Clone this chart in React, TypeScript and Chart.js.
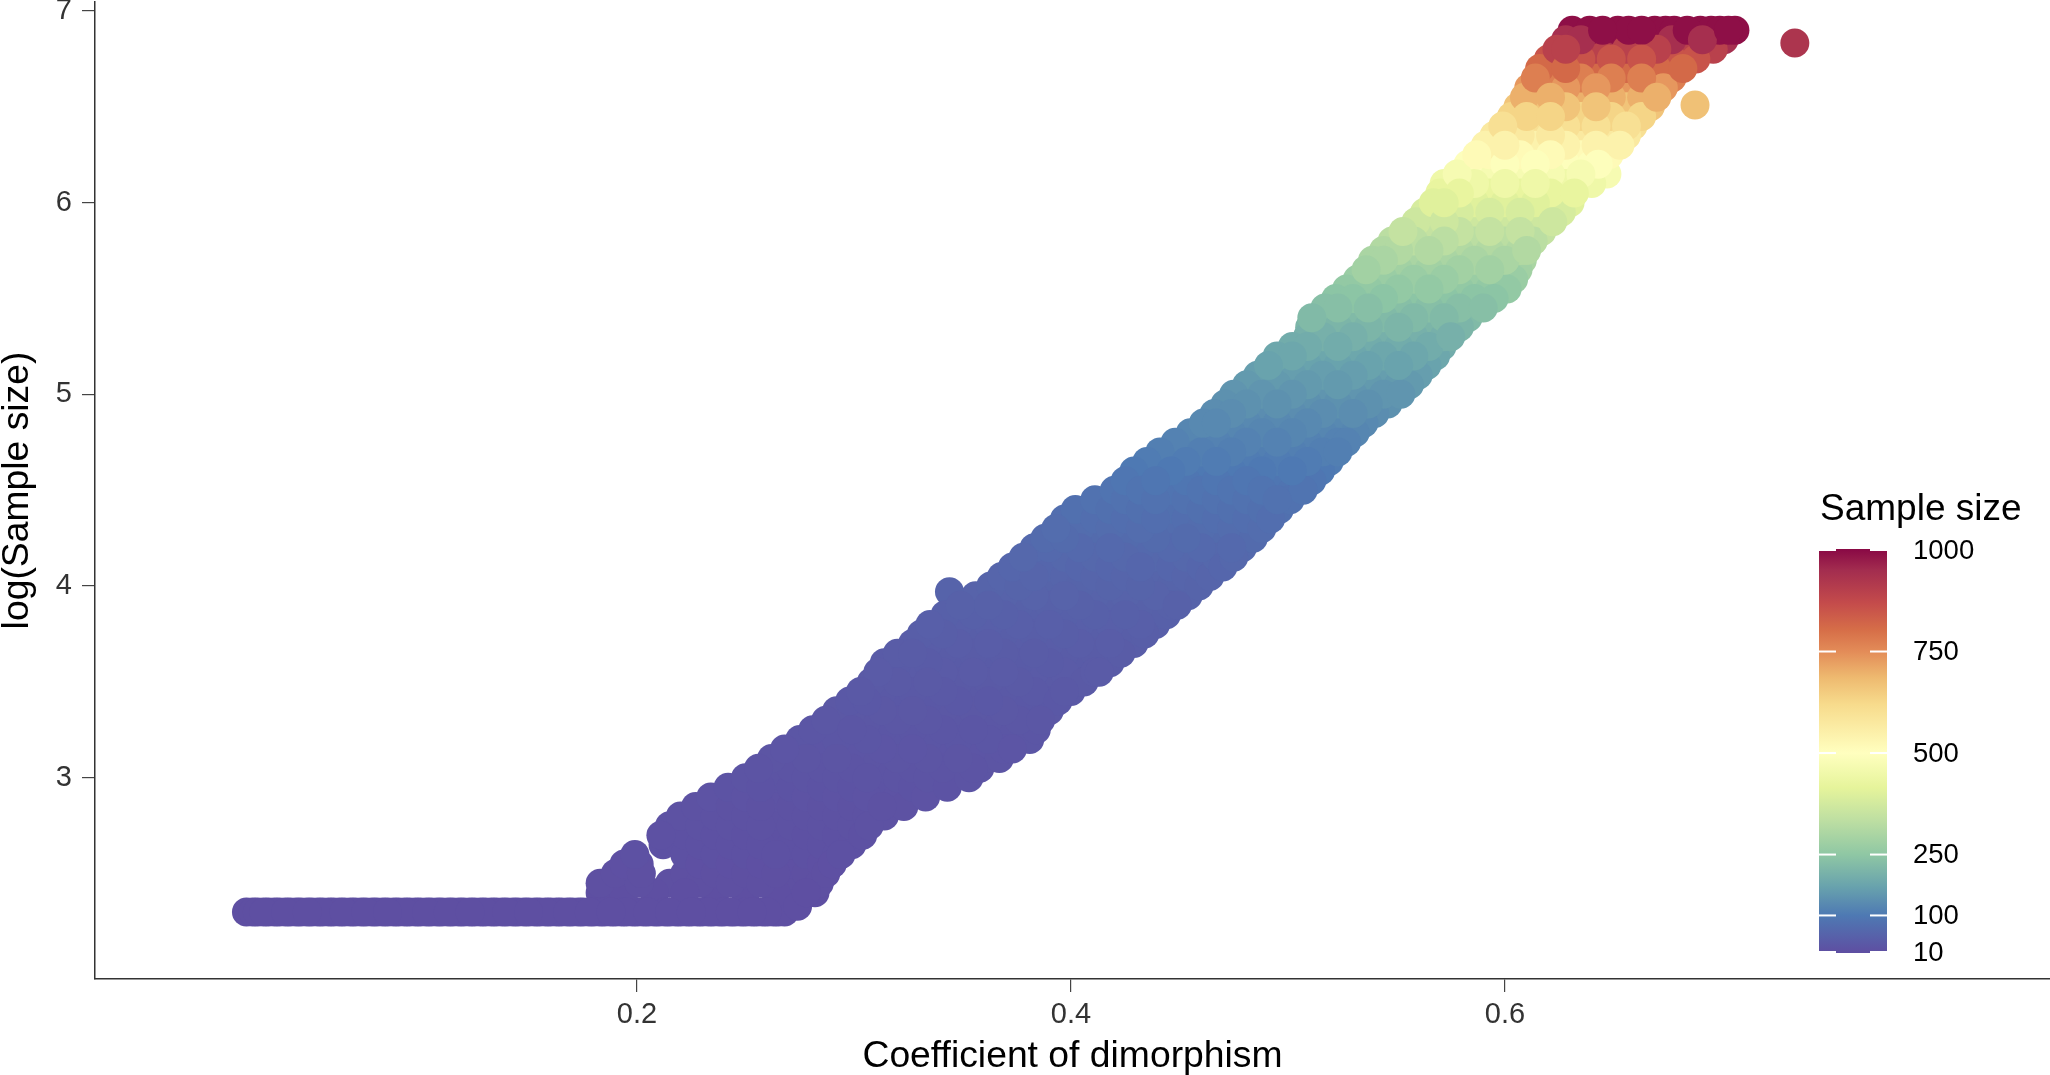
import React, { useEffect, useRef } from "react";
import { Chart, registerables } from "chart.js";

Chart.register(...registerables);

// log(Sample size) = 2.3 floor (n = 10): coefficient values read along the flat run
const floorY = 2.3;
const floorX = [.020,.023,.025,.028,.030,.033,.035,.038,.040,.043,.045,.048,.050,.053,.055,.058,.060,.063,.065,.068,.070,.073,.075,.078,.080,.083,.085,.088,.090,.093,.095,.098,.100,.103,.105,.108,.110,.113,.115,.118,.120,.123,.125,.128,.130,.133,.135,.138,.140,.143,.145,.148,.150,.153,.155,.158,.160,.163,.165,.168,.170,.173,.175,.178,.180,.183,.185,.188,.190,.193,.195,.198,.200,.203,.205,.208,.210,.213,.215,.218,.220,.223,.225,.228,.230,.233,.235,.238,.240,.243,.245,.248,.250,.253,.255,.258,.260,.263,.265,.268];

const lowY = [2.33,2.4,2.45,2.5,2.55,2.6,2.65,2.7,2.75,2.8,2.85,2.9,2.95,3.0,3.05,3.1,3.15,3.2,3.25,3.3,3.35,3.4,3.45,3.5,3.55,3.6,3.65,3.7,3.75,3.8,3.85,3.9,3.95,3.97];
const lowX = [
  [.274],
  [.183,.194,.208,.222,.236,.250,.264,.278,.282],
  [.183,.201,.215,.229,.243,.257,.271,.284],
  [.190,.202,.222,.236,.250,.264,.278,.287],
  [.194,.201,.229,.243,.257,.271,.285,.290],
  [.199,.222,.236,.250,.264,.278,.292,.294],
  [.212,.229,.243,.257,.271,.285,.299],
  [.211,.222,.236,.250,.264,.278,.292,.304],
  [.215,.229,.243,.257,.271,.285,.299,.307],
  [.220,.236,.250,.264,.278,.292,.306,.314],
  [.227,.243,.257,.271,.285,.299,.313,.323],
  [.234,.250,.264,.278,.292,.306,.320,.333],
  [.242,.257,.271,.285,.299,.313,.327,.343],
  [.250,.264,.278,.292,.306,.320,.334,.353],
  [.256,.271,.285,.299,.313,.327,.341,.355,.358],
  [.262,.278,.292,.306,.320,.334,.348,.362,.367],
  [.268,.285,.299,.313,.327,.341,.355,.369,.373],
  [.275,.292,.306,.320,.334,.348,.362,.376,.381],
  [.281,.299,.313,.327,.341,.355,.369,.384],
  [.287,.292,.306,.320,.334,.348,.362,.376,.386],
  [.292,.299,.313,.327,.341,.355,.369,.383,.390],
  [.298,.306,.320,.334,.348,.362,.376,.390,.394],
  [.303,.313,.327,.341,.355,.369,.383,.397,.400],
  [.308,.320,.334,.348,.362,.376,.390,.404,.406],
  [.311,.327,.341,.355,.369,.383,.397,.411,.413],
  [.314,.320,.334,.348,.362,.376,.390,.404,.418],
  [.320,.327,.341,.355,.369,.383,.397,.411,.423],
  [.327,.334,.348,.362,.376,.390,.404,.418,.429],
  [.331,.341,.355,.369,.383,.397,.411,.425,.434],
  [.335,.348,.362,.376,.390,.404,.418,.432,.439],
  [.342,.355,.369,.383,.397,.411,.425,.439,.444],
  [.349,.362,.376,.390,.404,.418,.432,.446,.449],
  [.356,.369,.383,.397,.411,.425,.439,.454],
  [.344],
];

const midY = [4.0,4.05,4.1,4.15,4.2,4.25,4.3,4.35,4.4,4.45,4.5,4.55,4.6,4.65,4.7,4.75,4.8,4.85,4.9,4.95,5.0];
const midX = [
  [.363,.376,.390,.404,.418,.432,.446,.459],
  [.368,.383,.397,.411,.425,.439,.453,.464],
  [.373,.390,.404,.418,.432,.446,.460,.470],
  [.378,.397,.411,.425,.439,.453,.467,.475],
  [.383,.390,.404,.418,.432,.446,.460,.474,.479],
  [.388,.397,.411,.425,.439,.453,.467,.481,.484],
  [.393,.404,.418,.432,.446,.460,.474,.488],
  [.397,.411,.425,.439,.453,.467,.481,.492],
  [.402,.418,.432,.446,.460,.474,.488,.496],
  [.411,.425,.439,.453,.467,.481,.495,.501],
  [.420,.432,.446,.460,.474,.488,.502,.507],
  [.425,.439,.453,.467,.481,.495,.511],
  [.429,.446,.460,.474,.488,.502,.515],
  [.435,.453,.467,.481,.495,.509,.519],
  [.441,.460,.474,.488,.502,.516,.523],
  [.448,.467,.481,.495,.509,.523,.527],
  [.455,.474,.488,.502,.516,.531],
  [.461,.467,.481,.495,.509,.523,.535],
  [.466,.474,.488,.502,.516,.530,.540],
  [.471,.481,.495,.509,.523,.537,.546],
  [.475,.488,.502,.516,.530,.544,.552],
];

const highY = [5.05,5.1,5.15,5.2,5.25,5.3,5.35,5.4,5.45,5.5,5.55,5.6,5.65,5.7,5.75,5.8,5.85,5.9,5.95,6.0];
const highX = [
  [.481,.495,.509,.523,.537,.551,.556],
  [.486,.502,.516,.530,.544,.558,.560],
  [.491,.509,.523,.537,.551,.564],
  [.495,.502,.516,.530,.544,.558,.568],
  [.502,.509,.523,.537,.551,.565,.571],
  [.509,.516,.530,.544,.558,.572,.575],
  [.510,.523,.537,.551,.565,.579],
  [.511,.530,.544,.558,.572,.583],
  [.517,.523,.537,.551,.565,.579,.590],
  [.522,.530,.544,.558,.572,.586,.595],
  [.527,.537,.551,.565,.579,.593,.601],
  [.532,.544,.558,.572,.586,.600,.604],
  [.536,.551,.565,.579,.593,.606],
  [.539,.544,.558,.572,.586,.600,.608],
  [.544,.551,.565,.579,.593,.607,.610],
  [.548,.558,.572,.586,.600,.613],
  [.553,.565,.579,.593,.607,.617],
  [.559,.572,.586,.600,.614,.622],
  [.563,.579,.593,.607,.621,.626],
  [.567,.572,.586,.600,.614,.628,.630],
];

const topY = [6.05,6.1,6.15,6.2,6.25,6.3,6.35,6.4,6.45,6.5,6.55,6.6,6.65,6.7,6.75,6.8,6.85,6.9];
const topX = [
  [.570,.579,.593,.607,.621,.632],
  [.572,.586,.600,.614,.628,.640],
  [.578,.593,.607,.621,.635,.647],
  [.583,.600,.614,.628,.640,.643],
  [.587,.593,.607,.621,.635,.648],
  [.591,.600,.614,.628,.642,.653],
  [.595,.607,.621,.635,.649,.656],
  [.599,.614,.628,.642,.656,.659],
  [.603,.610,.621,.635,.649,.663],
  [.606,.614,.628,.642,.656,.667],
  [.609,.621,.635,.649,.663,.670],
  [.611,.628,.642,.656,.670,.673],
  [.614,.621,.635,.649,.663,.677],
  [.616,.628,.642,.656,.670,.682],
  [.620,.635,.649,.663,.677,.688],
  [.624,.628,.642,.656,.670,.684,.696],
  [.628,.635,.649,.663,.677,.691,.701],
  [.631,.639,.645,.652,.657,.663,.669,.674,.678,.684,.690,.695,.699,.703,.706],
];

const outlierX = [.6876, .7336];
const outlierY = [6.51, 6.833];

// axis and legend
const xTicks = [0.2, 0.4, 0.6];
const yTicks = [3, 4, 5, 6, 7];
const legendTicks = [10, 100, 250, 500, 750, 1000];
const colorStopValues = [10,100,170,250,335,415,500,620,685,750,803,870,950,1000];
const colorStopHex = ["#5E4FA2","#4E79B3","#68A2AD","#8FC7A4","#BEDFA2","#E6F49B","#FFFFBF","#F7DB8C","#EEBA70","#E38C58","#D66E48","#C44B4B","#A32D4F","#8A0A45"];

const FONT = '"Liberation Sans", Arial, sans-serif';

function hexToRgb(h: string) {
  return [1, 3, 5].map((i) => parseInt(h.slice(i, i + 2), 16));
}

function colorFor(n: number) {
  const v = Math.min(1000, Math.max(10, n));
  let i = 0;
  while (i < colorStopValues.length - 2 && v > colorStopValues[i + 1]) i++;
  const t = (v - colorStopValues[i]) / (colorStopValues[i + 1] - colorStopValues[i]);
  const a = hexToRgb(colorStopHex[i]);
  const b = hexToRgb(colorStopHex[i + 1]);
  const c = a.map((u, k) => Math.round(u + (b[k] - u) * t));
  return `rgb(${c[0]},${c[1]},${c[2]})`;
}

function buildPoints() {
  const pts: { x: number; y: number }[] = floorX.map((x) => ({ x, y: floorY }));
  const groups: [number[], number[][]][] = [[lowY, lowX], [midY, midX], [highY, highX], [topY, topX]];
  for (const [ys, xs] of groups) {
    ys.forEach((y, r) => xs[r].forEach((x) => pts.push({ x, y })));
  }
  outlierX.forEach((x, i) => pts.push({ x, y: outlierY[i] }));
  // the original draws in data order, not by height: a fixed stride mixes the layers
  const n = pts.length;
  const step = n % 211 === 0 ? 199 : 211;
  return pts
    .map((p, i) => ({ p, k: (i * step) % n }))
    .sort((a, b) => a.k - b.k)
    .map((o) => o.p);
}

const legendPlugin = {
  id: "sampleSizeLegend",
  afterDraw(chart: Chart) {
    const ctx = chart.ctx;
    const left = 1819, right = 1887, top = 550, bottom = 952;
    const yOf = (v: number) => bottom - ((v - 10) / 990) * (bottom - top);
    ctx.save();
    const g = ctx.createLinearGradient(0, bottom, 0, top);
    colorStopValues.forEach((v, i) => g.addColorStop((v - 10) / 990, colorStopHex[i]));
    ctx.fillStyle = g;
    ctx.fillRect(left, top - 1, right - left, bottom - top + 2);
    ctx.fillStyle = "#000";
    ctx.font = `37px ${FONT}`;
    ctx.textAlign = "left";
    ctx.textBaseline = "alphabetic";
    ctx.fillText("Sample size", 1820, 520);
    ctx.font = `27.5px ${FONT}`;
    ctx.textBaseline = "middle";
    legendTicks.forEach((v) => {
      const y = yOf(v);
      ctx.fillStyle = "#fff";
      ctx.fillRect(left, y - 1, 17, 2);
      ctx.fillRect(right - 17, y - 1, 17, 2);
      ctx.fillStyle = "#000";
      ctx.fillText(String(v), 1913, y + 1);
    });
    ctx.restore();
  },
};

const noPadding = (s: any) => {
  s.paddingLeft = 0;
  s.paddingRight = 0;
  s.paddingTop = 0;
  s.paddingBottom = 0;
};

export default function App() {
  const ref = useRef<HTMLCanvasElement>(null);
  useEffect(() => {
    if (!ref.current) return;
    const chart = new Chart(ref.current, {
      type: "scatter",
      data: {
        datasets: [
          {
            data: buildPoints(),
            pointRadius: 14.5,
            pointBorderWidth: 0,
            clip: false,
            pointBackgroundColor: (c: any) => colorFor(Math.exp(c.raw ? c.raw.y : 2.3)),
          },
        ],
      },
      options: {
        animation: false,
        responsive: false,
        devicePixelRatio: 1,
        layout: { autoPadding: false, padding: { top: 2, left: 0, right: 0, bottom: 0 } },
        plugins: { legend: { display: false }, tooltip: { enabled: false } },
        scales: {
          x: {
            type: "linear",
            min: -0.0498,
            max: 0.8512,
            afterFit: (s: any) => { s.height = 96; noPadding(s); },
            afterBuildTicks: (s: any) => { s.ticks = xTicks.map((value) => ({ value })); },
            border: { color: "#333", width: 1.5 },
            grid: { drawOnChartArea: false, drawTicks: true, tickLength: 13, color: "#444", lineWidth: 1.2 },
            ticks: { autoSkip: false, maxRotation: 0, padding: 6, color: "#333", font: { family: FONT, size: 29 }, callback: (v: any) => Number(v).toFixed(1) },
            title: { display: true, text: "Coefficient of dimorphism", color: "#000", font: { family: FONT, size: 37.3 }, padding: { top: 0, bottom: -4 } },
          },
          y: {
            type: "linear",
            min: 1.95,
            max: 7.047,
            afterFit: (s: any) => { s.width = 95; noPadding(s); },
            afterBuildTicks: (s: any) => { s.ticks = yTicks.map((value) => ({ value })); },
            border: { color: "#333", width: 1.5 },
            grid: { drawOnChartArea: false, drawTicks: true, tickLength: 13, color: "#444", lineWidth: 1.2 },
            ticks: { autoSkip: false, padding: 10, color: "#333", font: { family: FONT, size: 29 }, callback: (v: any) => String(v) },
            title: { display: true, text: "log(Sample size)", color: "#000", font: { family: FONT, size: 37.3, lineHeight: 1 }, padding: { top: -1, bottom: 0 } },
          },
        },
      } as any,
      plugins: [legendPlugin as any],
    });
    return () => chart.destroy();
  }, []);
  return (
    <canvas
      ref={ref}
      width={2050}
      height={1075}
      style={{ position: "absolute", left: 0, top: 0, display: "block" }}
    />
  );
}
